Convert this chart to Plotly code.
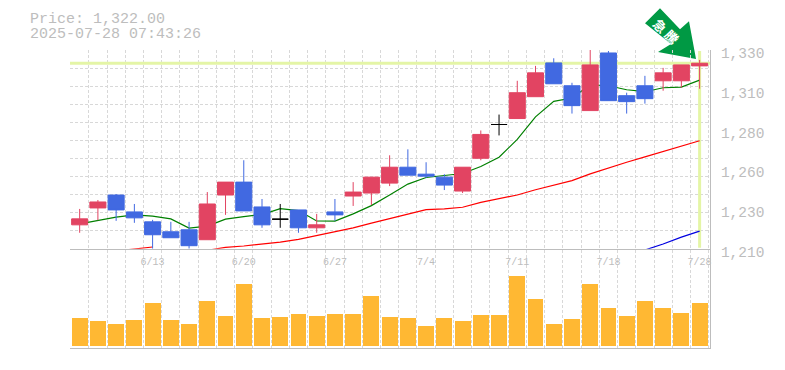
import plotly.graph_objects as go

# ---- data ----
n_days = 35
days = list(range(n_days))
opens  = [1224.4,1234.6,1242.4,1232.2,1226.2,1220.2,1221.4,1215.4,1242.4,1250.2,1235.2,1227.8,1233.4,1222.6,1232.2,
          1241.8,1243.6,1249.6,1259.2,1255.0,1253.2,1244.8,1264.6,1285.0,1288.6,1301.8,1322.2,1308.4,1293.4,1328.2,
          1302.4,1308.4,1311.4,1311.4,1320.4]
closes = [1228.0,1238.2,1233.4,1228.6,1218.4,1216.6,1211.8,1237.0,1250.2,1232.8,1224.4,1227.8,1222.6,1224.4,1230.4,
          1244.2,1253.2,1259.2,1254.4,1253.8,1248.4,1259.2,1279.0,1285.0,1304.2,1316.2,1309.6,1296.4,1321.0,1299.4,
          1298.8,1300.6,1316.2,1321.0,1322.0]
highs  = [1234.0,1239.4,1243.0,1237.0,1227.4,1226.2,1226.2,1244.2,1250.2,1263.4,1240.0,1237.0,1233.4,1231.0,1240.0,
          1250.2,1253.2,1266.4,1270.0,1262.2,1255.0,1259.2,1281.4,1291.0,1311.4,1320.4,1325.0,1310.2,1330.0,1329.4,
          1304.2,1314.4,1319.2,1321.0,1324.0]
lows   = [1219.6,1227.2,1226.8,1225.6,1210.0,1216.6,1210.0,1215.4,1230.4,1232.8,1222.6,1222.6,1219.6,1219.6,1226.8,
          1235.8,1236.4,1247.8,1254.4,1252.6,1245.4,1243.6,1263.4,1278.4,1288.6,1301.8,1309.6,1291.6,1293.4,1299.4,
          1291.6,1297.6,1305.4,1307.2,1306.6]
ma_short = [1225.0,1227.2,1229.0,1230.4,1229.6,1228.0,1222.4,1223.6,1227.8,1229.4,1230.6,1234.2,1233.0,1226.7,1226.6,
            1231.0,1236.0,1242.4,1249.0,1253.0,1254.0,1255.4,1259.6,1265.2,1276.0,1289.6,1299.0,1301.0,1309.0,1308.4,
            1306.0,1304.8,1307.2,1307.6,1311.8]
ma_mid = [None,None,1208.6,1209.8,1211.0,None,None,1209.0,1210.8,1211.6,1212.6,1214.0,1215.6,1217.8,1220.0,
          1222.6,1225.4,1228.0,1231.0,1233.6,1234.0,1235.0,1238.0,1240.0,1242.4,1245.6,1248.4,1251.1,1255.2,1258.8,
          1262.2,1265.4,1268.8,1271.8,1275.2]
ma_long = [None]*31 + [1209.2,1212.8,1217.0,1220.6]
volumes = [29,26,23,27,44,27,23,46,31,63,29,30,33,31,33,33,51,30,29,21,29,26,32,32,71,48,23,28,63,39,31,46,39,34,44]

price_now = 1322.0
header_lines = ["Price: 1,322.00", "2025-07-28 07:43:26"]
price_ticks = [1330,1306,1282,1258,1234,1210]
price_labels = ["1,330","1,310","1,280","1,260","1,230","1,210"]
date_pos = [4,9,14,19,24,29,34]
date_labels = ["6/13","6/20","6/27","7/4","7/11","7/18","7/28"]
badge_chars = ["\u6025", "\u9a30"]

# ---- style ----
MONO = "Liberation Mono"
GREY = "#bdbdbd"
UP, DOWN = "#e24462", "#4169e1"
HL = "#e4f5a6"
X_RANGE = [-0.53, 34.57]
Y_RANGE = [1210, 1330]
CLEAR = "rgba(0,0,0,0)"
grid = dict(gridcolor="#d8d8d8", griddash="3px,2px", gridwidth=1)

fig = go.Figure()

# invisible traces that keep the frame and the label axes alive
fig.add_trace(go.Scatter(x=[0], y=[0.5], xaxis="x", yaxis="y", mode="markers", marker=dict(opacity=0), hoverinfo="skip"))

# highlight guides + moving averages, below the candles
fig.add_trace(go.Scatter(x=X_RANGE, y=[price_now, price_now], xaxis="x2", yaxis="y2", mode="lines",
                         line=dict(color=HL, width=3), hoverinfo="skip"))
fig.add_trace(go.Scatter(x=[days[-1], days[-1]], y=[1210.6, 1329.4], xaxis="x2", yaxis="y2", mode="lines",
                         line=dict(color=HL, width=3), hoverinfo="skip"))
for vals, col in ((ma_short, "#008000"), (ma_mid, "#ff0000"), (ma_long, "#0000e0")):
    fig.add_trace(go.Scatter(x=days, y=vals, xaxis="x2", yaxis="y2", mode="lines", cliponaxis=False,
                             connectgaps=False, line=dict(color=col, width=1.2), hoverinfo="skip"))

# candles, split by colour
def pick(cond):
    idx = [i for i in days if cond(i)]
    return dict(x=idx, open=[opens[i] for i in idx], high=[highs[i] for i in idx],
                low=[lows[i] for i in idx], close=[closes[i] for i in idx])

for cond, col in ((lambda i: closes[i] > opens[i], UP),
                  (lambda i: closes[i] < opens[i], DOWN),
                  (lambda i: closes[i] == opens[i], "#000000")):
    side = dict(line=dict(color=col, width=1), fillcolor=col)
    fig.add_trace(go.Candlestick(xaxis="x2", yaxis="y4", whiskerwidth=0,
                                 increasing=side, decreasing=side, **pick(cond)))

fig.add_trace(go.Bar(x=days, y=volumes, xaxis="x3", yaxis="y3", width=0.87,
                     marker=dict(color="#ffb833", line=dict(width=0)), hoverinfo="skip"))

fig.add_trace(go.Scatter(x=[0], y=[1330], xaxis="x4", yaxis="y5", mode="markers",
                         marker=dict(opacity=0), hoverinfo="skip"))

H = 300.0
badge = [dict(xref="paper", yref="paper", x=(px - 70) / 640, y=(350 - py) / H, text="<b>%s</b>" % ch, textangle=45,
              xanchor="center", yanchor="middle", showarrow=False,
              font=dict(family="Noto Sans CJK JP", size=13, color="#ffffff"))
         for ch, (px, py) in zip(badge_chars, ((660, 25), (672, 36)))]

# the page sits 8 px inside the browser window, so the figure is 16 px smaller
fig.update_layout(
    width=769, height=354, autosize=False, showlegend=False,
    margin=dict(l=62, r=67, t=42, b=12, pad=0),
    paper_bgcolor="#ffffff", plot_bgcolor=CLEAR,
    font=dict(family=MONO, color=GREY),
    bargap=0,
    boxgap=0.12,
    boxgroupgap=0,
    # base pane: vertical grid and outer frame
    xaxis=dict(domain=[0, 1], range=X_RANGE, anchor="y", tickvals=[i - 0.5 for i in days] + [34.5],
               showticklabels=False, ticks="", showgrid=True, zeroline=False,
               showline=True, linecolor=GREY, linewidth=1, **grid),
    yaxis=dict(domain=[0, 1], range=[0, 1], anchor="x", side="right", showgrid=False, zeroline=False,
               showticklabels=False, ticks="", showline=True, linecolor=GREY, linewidth=1),
    # price pane
    xaxis2=dict(domain=[0, 1], range=X_RANGE, anchor="y2", tickvals=date_pos, ticktext=date_labels,
                showgrid=False, zeroline=False, showline=True, linecolor=GREY, linewidth=1,
                rangeslider=dict(visible=False), ticks="outside", ticklen=3, tickcolor=CLEAR, tickangle=0,
                tickfont=dict(family=MONO, size=10, color=GREY)),
    yaxis2=dict(domain=[100 / H, 1], range=Y_RANGE, anchor="x2", side="right", showticklabels=False, ticks="",
                tickvals=[1210 + 120 * k / 11 for k in range(12)], showgrid=True, zeroline=False, **grid),
    yaxis4=dict(overlaying="y2", range=Y_RANGE, anchor="x2", side="right", showgrid=False, zeroline=False,
                showticklabels=False, ticks=""),
    # label axis: the labels sit 3 px below their price
    xaxis4=dict(domain=[0, 1], range=X_RANGE, anchor="y5", visible=False),
    yaxis5=dict(domain=[90 / H, 1], range=[1330 - 0.6 * 210 + 1.8, 1331.8], anchor="x4",
                side="right", tickvals=price_ticks, ticktext=price_labels, showgrid=False, zeroline=False,
                showline=False, ticks="outside", ticklen=7, tickcolor=CLEAR,
                tickfont=dict(family=MONO, size=14.5, color=GREY)),
    # volume pane
    xaxis3=dict(domain=[0, 1], range=X_RANGE, anchor="y3", visible=False),
    yaxis3=dict(domain=[2 / H, 85 / H], range=[0, 83], anchor="x3", visible=False),
    annotations=[
        dict(xref="paper", yref="paper", x=-42 / 640, y=(350 - 19) / H, xanchor="left", yanchor="middle",
             text=header_lines[0], showarrow=False, font=dict(family=MONO, size=15, color=GREY)),
        dict(xref="paper", yref="paper", x=-42 / 640, y=(350 - 34) / H, xanchor="left", yanchor="middle",
             text=header_lines[1], showarrow=False, font=dict(family=MONO, size=15, color=GREY)),
    ] + badge,
    shapes=[dict(type="path", xref="paper", yref="paper", layer="below", line=dict(width=0), fillcolor="#009944",
                 path="M {} {} L {} {} L {} {} L {} {} L {} {} L {} {} L {} {} Z".format(
                     *[v for p in ((660, 8), (645, 23), (671, 44), (658, 52), (696, 59), (689, 21), (680, 29))
                       for v in ((p[0] - 70) / 640, (350 - p[1]) / H)]))],
)
fig.write_html("out.html")
